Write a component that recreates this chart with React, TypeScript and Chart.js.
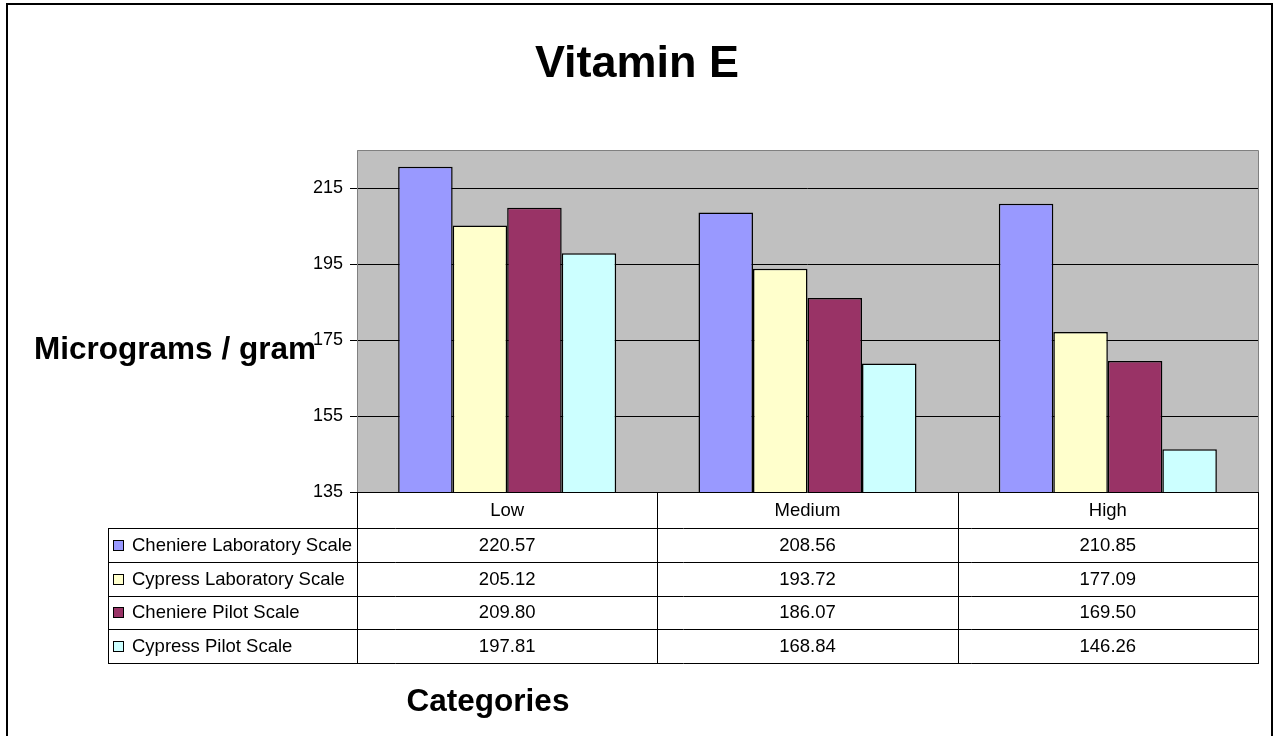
import React, { useEffect, useRef } from 'react';
import { Chart, registerables } from 'chart.js';

Chart.register(...registerables);

const categories = ['Low', 'Medium', 'High'];
const seriesNames = [
  'Cheniere Laboratory Scale',
  'Cypress Laboratory Scale',
  'Cheniere Pilot Scale',
  'Cypress Pilot Scale',
];
const cheniereLab = [220.57, 208.56, 210.85];
const cypressLab = [205.12, 193.72, 177.09];
const chenierePilot = [209.8, 186.07, 169.5];
const cypressPilot = [197.81, 168.84, 146.26];
const seriesColors = ['#9999FF', '#FFFFCC', '#993366', '#CCFFFF'];
const yMin = 135;
const yMax = 225;
const yTicks = [135, 155, 175, 195, 215];
const titleText = 'Vitamin E';
const yTitle = 'Micrograms / gram';
const xTitle = 'Categories';

const FONT = '"Liberation Sans", Arial, Helvetica, sans-serif';
const W = 1274;
const H = 736;

const seriesValues = [cheniereLab, cypressLab, chenierePilot, cypressPilot];

const crisp = (v: number) => Math.round(v) + 0.5;

const decor = {
  id: 'decor',
  beforeDraw(chart: any) {
    const { ctx, chartArea: a, width, height } = chart;
    ctx.save();
    ctx.fillStyle = '#ffffff';
    ctx.fillRect(0, 0, width, height);
    ctx.fillStyle = '#C0C0C0';
    ctx.fillRect(a.left, a.top, a.right - a.left, a.bottom - a.top);
    ctx.restore();
  },
  beforeDatasetsDraw(chart: any) {
    const { ctx, chartArea: a } = chart;
    ctx.save();
    ctx.strokeStyle = '#808080';
    ctx.lineWidth = 1;
    ctx.beginPath();
    ctx.moveTo(crisp(a.left), a.bottom);
    ctx.lineTo(crisp(a.left), crisp(a.top));
    ctx.lineTo(crisp(a.right), crisp(a.top));
    ctx.lineTo(crisp(a.right), a.bottom);
    ctx.stroke();
    ctx.restore();
  },
  afterDraw(chart: any) {
    const { ctx, chartArea: a } = chart;
    const xs = chart.scales.x;
    ctx.save();

    // outer frame
    ctx.strokeStyle = '#000';
    ctx.lineWidth = 2;
    ctx.strokeRect(7, 4, 1265, H + 10);

    // titles
    ctx.fillStyle = '#000';
    ctx.textBaseline = 'alphabetic';
    ctx.textAlign = 'center';
    ctx.font = `bold 45px ${FONT}`;
    ctx.fillText(titleText, 637, 77);
    ctx.font = `bold 31.5px ${FONT}`;
    ctx.fillText(yTitle, 175, 359);
    ctx.fillText(xTitle, 488, 711);

    // data table
    const tableLeft = 108;
    const headerBottom = a.bottom + 36;
    const tableBottom = chart.height - 73;
    const rowH = (tableBottom - headerBottom) / seriesNames.length;
    const colW = (a.right - a.left) / categories.length;

    ctx.strokeStyle = '#000';
    ctx.lineWidth = 1;
    ctx.beginPath();
    for (let i = 0; i <= seriesNames.length; i++) {
      const y = crisp(headerBottom + i * rowH);
      ctx.moveTo(tableLeft, y);
      ctx.lineTo(a.right + 1, y);
    }
    ctx.moveTo(crisp(tableLeft), crisp(headerBottom));
    ctx.lineTo(crisp(tableLeft), crisp(tableBottom));
    for (let j = 0; j <= categories.length; j++) {
      const x = crisp(a.left + j * colW);
      ctx.moveTo(x, a.bottom);
      ctx.lineTo(x, crisp(tableBottom));
    }
    ctx.stroke();

    ctx.font = `18.5px ${FONT}`;
    ctx.textBaseline = 'middle';
    ctx.textAlign = 'center';
    ctx.fillStyle = '#000';
    categories.forEach((c, i) => {
      ctx.fillText(c, xs.getPixelForValue(i), (a.bottom + headerBottom) / 2 + 1);
    });

    seriesNames.forEach((name, r) => {
      const cy = headerBottom + (r + 0.5) * rowH + 1;
      const kx = tableLeft + 5;
      const ky = Math.round(cy - 6);
      ctx.fillStyle = seriesColors[r];
      ctx.fillRect(kx, ky, 11, 11);
      ctx.strokeStyle = '#000';
      ctx.lineWidth = 1;
      ctx.strokeRect(kx + 0.5, ky + 0.5, 10, 10);
      ctx.fillStyle = '#000';
      ctx.textAlign = 'left';
      ctx.fillText(name, tableLeft + 24, cy);
      ctx.textAlign = 'center';
      seriesValues[r].forEach((v, i) => {
        ctx.fillText(v.toFixed(2), xs.getPixelForValue(i), cy);
      });
    });

    ctx.restore();
  },
};

export default function App() {
  const ref = useRef<HTMLCanvasElement | null>(null);

  useEffect(() => {
    if (!ref.current) return;
    const chart = new Chart(ref.current, {
      type: 'bar',
      data: {
        labels: categories,
        datasets: seriesNames.map((name, i) => ({
          label: name,
          data: seriesValues[i],
          backgroundColor: seriesColors[i],
          borderColor: '#000000',
          borderWidth: 1.5,
          categoryPercentage: 0.726,
          barPercentage: 1,
        })),
      },
      options: {
        responsive: false,
        animation: false,
        devicePixelRatio: 1,
        layout: { padding: { top: 150, right: 16, bottom: 73, left: 0 } },
        plugins: {
          legend: { display: false },
          title: { display: false },
          tooltip: { enabled: false },
        },
        scales: {
          x: {
            grid: { display: false },
            border: { display: false },
            ticks: { display: false },
            afterFit: (s: any) => {
              s.height = 171;
            },
          },
          y: {
            min: yMin,
            max: yMax,
            ticks: {
              color: '#000',
              padding: 7,
              font: { family: FONT, size: 18 },
            },
            grid: {
              color: '#000',
              lineWidth: 1,
              tickLength: 7,
              drawTicks: true,
            },
            border: { display: false },
            afterBuildTicks: (s: any) => {
              s.ticks = yTicks.map((v) => ({ value: v }));
            },
            afterFit: (s: any) => {
              s.width = 357;
            },
          },
        },
      },
      plugins: [decor],
    });
    return () => chart.destroy();
  }, []);

  return (
    <canvas
      ref={ref}
      width={W}
      height={H}
      style={{ position: 'fixed', left: 0, top: 0, width: W, height: H }}
    />
  );
}
